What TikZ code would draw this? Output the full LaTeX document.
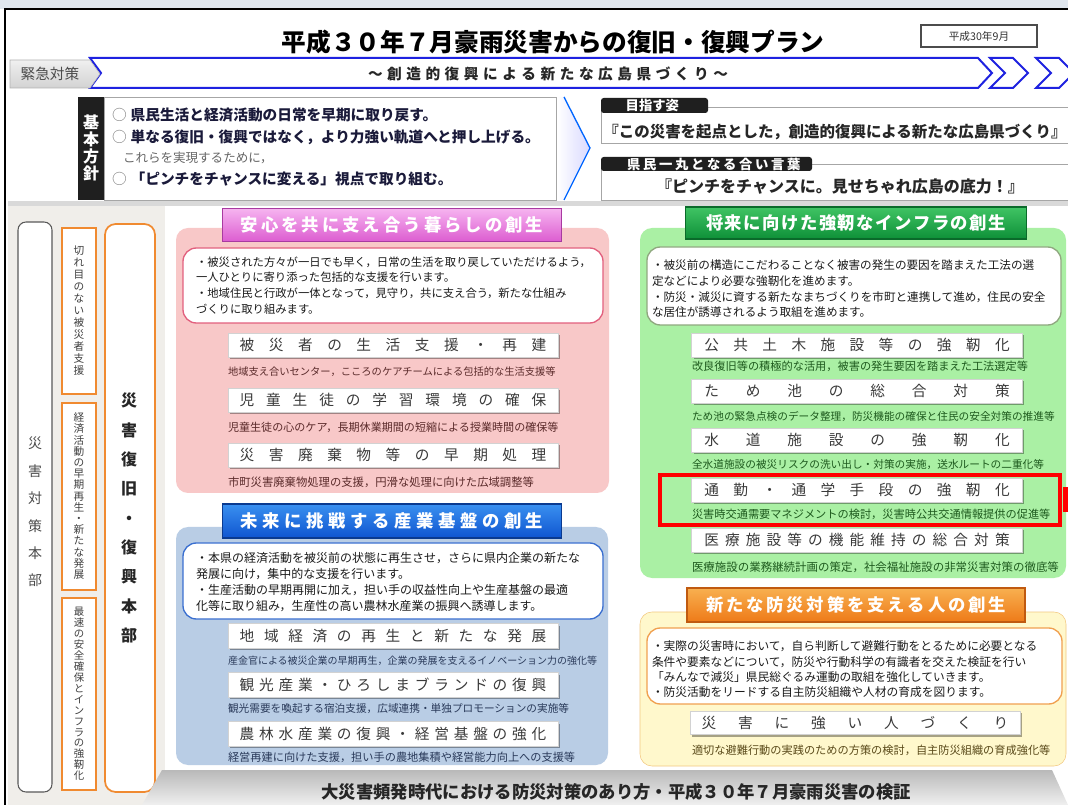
\documentclass[tikz,border=0pt]{standalone}
\usepackage{fontspec}
\setmainfont{Noto Sans CJK JP}
\usetikzlibrary{shadows}
\definecolor{topstrip}{HTML}{DFE6EE}
\definecolor{bandblue}{HTML}{1E22E0}
\definecolor{leftbg}{HTML}{F0EEEA}
\definecolor{orgline}{HTML}{F08A30}
\definecolor{pinkpanel}{HTML}{F8C8C8}
\definecolor{pinkline}{HTML}{E2607E}
\definecolor{pinkA}{HTML}{F6B4F0}
\definecolor{pinkB}{HTML}{DC5CD0}
\definecolor{pinkD}{HTML}{A83AA0}
\definecolor{bluepanel}{HTML}{B9CDE5}
\definecolor{blueline}{HTML}{3A6FD0}
\definecolor{blueA}{HTML}{3A90F0}
\definecolor{blueB}{HTML}{0F55D0}
\definecolor{blueD}{HTML}{0A3A90}
\definecolor{greenpanel}{HTML}{AAF0A4}
\definecolor{greenline}{HTML}{90A880}
\definecolor{greenA}{HTML}{40C464}
\definecolor{greenB}{HTML}{0E9038}
\definecolor{greenD}{HTML}{0A6A2A}
\definecolor{orgpanel}{HTML}{FFF8CC}
\definecolor{orgpline}{HTML}{F2C880}
\definecolor{orgdline}{HTML}{F0A050}
\definecolor{orgA}{HTML}{F8B050}
\definecolor{orgB}{HTML}{EE7A18}
\definecolor{orgD}{HTML}{C05A10}
\definecolor{txt}{HTML}{1A1A1A}
\definecolor{navy}{HTML}{1A1A3A}
\definecolor{subpink}{HTML}{5A2A2A}
\definecolor{subblue}{HTML}{2A3A5A}
\definecolor{subgreen}{HTML}{1E5A1E}
\definecolor{suborg}{HTML}{5A4A1A}
\definecolor{itemtxt}{HTML}{3A3A3A}
\makeatletter
\newcommand\spr[2]{\makebox[#1]{\let\sprsep\relax\@tfor\sprc:=#2\do{\sprsep\sprc\def\sprsep{\hfill}}}}
\newcommand\vstk[2]{\vbox{\baselineskip=#1\relax\lineskip=0pt\lineskiplimit=-30pt\relax\@tfor\vc:=#2\do{\hbox to 1em{\hss\vc\hss}}}}
\makeatother
\newcommand\fsz[2]{\fontsize{#1}{#2}\selectfont}
\newcommand\bpmark{{\mdseries\color{gray}○}\hspace{3pt}}
\begin{document}
\begin{tikzpicture}[x=0.75pt,y=-0.75pt,
  lbl/.style={inner sep=0pt,outer sep=0pt},
  hdr/.style={lbl,text=white,font=\fsz{13pt}{13pt}\bfseries,line width=0.8pt},
  itembox/.style={lbl,fill=white,draw=gray!35,line width=0.4pt,text=itemtxt,font=\fsz{11pt}{11pt},
     drop shadow={shadow xshift=1.6pt,shadow yshift=-1.6pt,fill=black,opacity=0.35}},
  desc/.style={lbl,anchor=north west,align=left,text=txt},
  sub/.style={lbl,anchor=west},
  vlabel/.style={lbl},
  pillar/.style={orgline,fill=white,line width=1.3pt},
]
\useasboundingbox (0,0) rectangle (1068,805);
% page
\fill[topstrip] (0,0) rectangle (1068,9);
\fill[white] (5,9) rectangle (1068,805);
\draw[black,line width=1.2pt] (5,805) -- (5,9) -- (1068,9);
% title
\node[lbl,font=\fsz{18.5pt}{18.5pt}\bfseries,text=black] (title) at (553,42) {平成３０年７月豪雨災害からの復旧・復興プラン};
\node[draw=black!70,line width=1.5pt,fill=white,minimum width=87pt,minimum height=16.5pt,inner sep=0pt,font=\fsz{8pt}{8pt},text=black!80] (date) at (979,36) {平成30年9月};
% band
\draw[bandblue,line width=1.5pt,fill=white] (90,58) -- (978,58) -- (992,73) -- (978,88) -- (90,88) -- (101,73) -- cycle;
\draw[bandblue,line width=1.5pt,fill=white] (990,58) -- (1013,58) -- (1028,73) -- (1013,88) -- (990,88) -- (1005,73) -- cycle;
\draw[bandblue,line width=1.5pt,fill=white] (1036,58) -- (1059,58) -- (1074,73) -- (1059,88) -- (1036,88) -- (1051,73) -- cycle;
\shade[top color=gray!12,bottom color=gray!35,draw=gray!60] (10,60) -- (90,60) -- (100,74) -- (90,88) -- (10,88) -- cycle;
\node[lbl,font=\fsz{11pt}{11pt},text=black!70] (kinkyu) at (50,74) {緊急対策};
\node[lbl,font=\fsz{11pt}{11pt}\bfseries,text=black!85] (slogan) at (548,74) {\spr{270pt}{～創造的復興による新たな広島県づくり～}};
% basic policy
\fill[black!88] (78,97) rectangle (104,200);
\node[lbl,text=white,font=\fsz{12pt}{12pt}\bfseries] (kihon) at (91,148) {\vstk{12.8pt}{基本方針}};
\draw[gray!70,fill=white] (104,97) rectangle (556,200);
\node[lbl,anchor=west,font=\fsz{11pt}{11pt}\bfseries,text=navy] (bp1) at (112,115) {\bpmark 県民生活と経済活動の日常を早期に取り戻す。};
\node[lbl,anchor=west,font=\fsz{11pt}{11pt}\bfseries,text=navy] (bp2) at (112,137) {\bpmark 単なる復旧・復興ではなく，より力強い軌道へと押し上げる。};
\node[lbl,anchor=west,font=\fsz{9.4pt}{9.4pt},text=black!60] (bp3) at (123,158) {これらを実現するために，};
\node[lbl,anchor=west,font=\fsz{11pt}{11pt}\bfseries,text=navy] (bp4) at (112,179) {\bpmark「ピンチをチャンスに変える」視点で取り組む。};
\shade[left color=white,right color=blue!15] (557,97) -- (564,97) -- (590,148) -- (564,200) -- (557,200) -- cycle;
\draw[blue!60!cyan,line width=1pt] (564,97) -- (590,148) -- (564,200);
% vision
\draw[gray!70,fill=white] (601,107) rectangle (1075,143);
\fill[black!88,rounded corners=2pt] (601,98) rectangle (708,113);
\node[lbl,anchor=west,text=white,font=\fsz{10pt}{10pt}\bfseries] (mezasu) at (627,105.5) {\spr{38pt}{目指す姿}};
\node[lbl,font=\fsz{11.6pt}{11.6pt}\bfseries,text=black!85] (vision) at (835,132) {『この災害を起点とした，創造的復興による新たな広島県づくり』};
\draw[gray!70,fill=white] (601,164) rectangle (1075,200);
\fill[black!88,rounded corners=2pt] (601,157) rectangle (812,171);
\node[lbl,anchor=west,text=white,font=\fsz{10pt}{10pt}\bfseries] (aikotoba) at (627,164) {\spr{130pt}{県民一丸となる合い言葉}};
\node[lbl,font=\fsz{12pt}{12pt}\bfseries,text=black!85] (catch) at (840,187) {『ピンチをチャンスに。見せちゃれ広島の底力！』};
% left column
\fill[gray!30] (8,201) rectangle (1068,206);
\fill[leftbg] (8,206) rectangle (165,805);
\draw[black!65,fill=white,rounded corners=6pt,line width=0.8pt] (18,222) rectangle (52,792);
\node[vlabel,text=black!70,font=\fsz{10.5pt}{10.5pt}] (taisaku) at (35,512) {\vstk{20.6pt}{災害対策本部}};
\draw[pillar] (62,228) rectangle (96,394);
\node[vlabel,text=black!75,font=\fsz{8pt}{8pt}] (kire) at (79,311) {\vstk{9pt}{切れ目のない被災者支援}};
\draw[pillar] (62,403) rectangle (96,590);
\node[vlabel,text=black!75,font=\fsz{8pt}{8pt}] (keizai) at (79,496) {\vstk{8.4pt}{経済活動の早期再生・新たな発展}};
\draw[pillar] (62,598) rectangle (96,790);
\node[vlabel,text=black!75,font=\fsz{7.8pt}{7.8pt}] (saisoku) at (79,694) {\vstk{8.2pt}{最速の安全確保とインフラの強靭化}};
\draw[pillar,rounded corners=8pt] (105,224) rectangle (155,792);
\node[vlabel,text=black!85,font=\fsz{12pt}{12pt}\bfseries] (fukko) at (129,518) {\vstk{22pt}{災害復旧・復興本部}};
% pink section
\fill[pinkpanel,rounded corners=9pt] (176,228) rectangle (609,493);
\node[hdr,top color=pinkA,bottom color=pinkB,draw=pinkD,minimum width=254pt,minimum height=25pt] (ph) at (392,225) {\spr{227pt}{安心を共に支え合う暮らしの創生}};
\draw[pinkline,fill=white,rounded corners=10pt,line width=1pt] (183,248) rectangle (603,323);
\node[desc,font=\fsz{8.5pt}{11.8pt}] (pd) at (196,256.5) {・被災された方々が一日でも早く，日常の生活を取り戻していただけるよう，\\一人ひとりに寄り添った包括的な支援を行います。\\・地域住民と行政が一体となって，見守り，共に支え合う，新たな仕組み\\づくりに取り組みます。};
\node[itembox,minimum width=247.5pt,minimum height=18pt] (pi1) at (393,345) {\spr{230pt}{被災者の生活支援・再建}};
\node[sub,text=subpink,font=\fsz{7.7pt}{8pt}] (ps1) at (228,372) {地域支え合いセンター，こころのケアチームによる包括的な生活支援等};
\node[itembox,minimum width=247.5pt,minimum height=18pt] (pi2) at (393,400) {\spr{230pt}{児童生徒の学習環境の確保}};
\node[sub,text=subpink,font=\fsz{8.3pt}{8.5pt}] (ps2) at (228,427) {児童生徒の心のケア，長期休業期間の短縮による授業時間の確保等};
\node[itembox,minimum width=247.5pt,minimum height=18pt] (pi3) at (393,455) {\spr{230pt}{災害廃棄物等の早期処理}};
\node[sub,text=subpink,font=\fsz{8.5pt}{8.5pt}] (ps3) at (228,482) {市町災害廃棄物処理の支援，円滑な処理に向けた広域調整等};
% blue section
\fill[bluepanel,rounded corners=9pt] (176,527) rectangle (608,765);
\node[hdr,top color=blueA,bottom color=blueB,draw=blueD,minimum width=254pt,minimum height=25.5pt] (bh) at (392,521) {\spr{227pt}{未来に挑戦する産業基盤の創生}};
\draw[blueline,fill=white,rounded corners=10pt,line width=1pt] (183,543) rectangle (603,619);
\node[desc,font=\fsz{9pt}{12pt}] (bd) at (196,552) {・本県の経済活動を被災前の状態に再生させ，さらに県内企業の新たな\\発展に向け，集中的な支援を行います。\\・生産活動の早期再開に加え，担い手の収益性向上や生産基盤の最適\\化等に取り組み，生産性の高い農林水産業の振興へ誘導します。};
\node[itembox,minimum width=247.5pt,minimum height=18.5pt] (bi1) at (393,636) {\spr{230pt}{地域経済の再生と新たな発展}};
\node[sub,text=subblue,font=\fsz{7.5pt}{8pt}] (bs1) at (228,661) {産金官による被災企業の早期再生，企業の発展を支えるイノベーション力の強化等};
\node[itembox,minimum width=247.5pt,minimum height=18.5pt] (bi2) at (393,685) {\spr{230pt}{観光産業・ひろしまブランドの復興}};
\node[sub,text=subblue,font=\fsz{8pt}{8pt}] (bs2) at (228,709) {観光需要を喚起する宿泊支援，広域連携・単独プロモーションの実施等};
\node[itembox,minimum width=247.5pt,minimum height=18.5pt] (bi3) at (393,734) {\spr{230pt}{農林水産業の復興・経営基盤の強化}};
\node[sub,text=subblue,font=\fsz{8.4pt}{8.5pt}] (bs3) at (228,757) {経営再建に向けた支援，担い手の農地集積や経営能力向上への支援等};
% green section
\fill[greenpanel,rounded corners=9pt] (640,228) rectangle (1066,578);
\node[hdr,top color=greenA,bottom color=greenB,draw=greenD,minimum width=256pt,minimum height=24pt] (gh) at (856,223) {\spr{225pt}{将来に向けた強靭なインフラの創生}};
\draw[greenline,fill=white,rounded corners=10pt,line width=1pt] (647,247) rectangle (1061,325);
\node[desc,font=\fsz{8.7pt}{11.8pt}] (gd) at (652,260) {・被災前の構造にこだわることなく被害の発生の要因を踏まえた工法の選\\定などにより必要な強靭化を進めます。\\・防災・減災に資する新たなまちづくりを市町と連携して進め，住民の安全\\な居住が誘導されるよう取組を進めます。};
\node[itembox,minimum width=248pt,minimum height=18pt] (gi1) at (857,345) {\spr{229pt}{公共土木施設等の強靭化}};
\node[sub,text=subgreen,font=\fsz{8.4pt}{8.5pt}] (gs1) at (692,366) {改良復旧等の積極的な活用，被害の発生要因を踏まえた工法選定等};
\node[itembox,minimum width=248pt,minimum height=18pt] (gi2) at (857,391) {\spr{229pt}{ため池の総合対策}};
\node[sub,text=subgreen,font=\fsz{8pt}{8pt}] (gs2) at (692,417) {ため池の緊急点検のデータ整理，防災機能の確保と住民の安全対策の推進等};
\node[itembox,minimum width=248pt,minimum height=18pt] (gi3) at (857,440) {\spr{229pt}{水道施設の強靭化}};
\node[sub,text=subgreen,font=\fsz{8pt}{8pt}] (gs3) at (692,465) {全水道施設の被災リスクの洗い出し・対策の実施，送水ルートの二重化等};
\node[itembox,minimum width=248pt,minimum height=18pt] (gi4) at (857,490) {\spr{229pt}{通勤・通学手段の強靭化}};
\node[sub,text=subgreen,font=\fsz{8.4pt}{8.5pt}] (gs4) at (692,514) {災害時交通需要マネジメントの検討，災害時公共交通情報提供の促進等};
\node[itembox,minimum width=248pt,minimum height=18pt] (gi5) at (857,540) {\spr{229pt}{医療施設等の機能維持の総合対策}};
\node[sub,text=subgreen,font=\fsz{8.6pt}{8.6pt}] (gs5) at (692,567) {医療施設の業務継続計画の策定，社会福祉施設の非常災害対策の徹底等};
\draw[red,line width=2.4pt] (660,475) rectangle (1060,525);
\fill[red] (1063,487) rectangle (1070,512);
% orange section
\fill[orgpanel,rounded corners=9pt] (640,612) rectangle (1066,766);
\draw[orgpline,rounded corners=9pt] (640,612) rectangle (1066,766);
\node[hdr,top color=orgA,bottom color=orgB,draw=orgD,minimum width=253.5pt,minimum height=25.5pt] (oh) at (856,605) {\spr{225pt}{新たな防災対策を支える人の創生}};
\draw[orgdline,fill=white,rounded corners=10pt,line width=1pt] (647,628) rectangle (1062,704);
\node[desc,font=\fsz{8.8pt}{11.5pt}] (od) at (652,641) {・実際の災害時において，自ら判断して避難行動をとるために必要となる\\条件や要素などについて，防災や行動科学の有識者を交えた検証を行い\\「みんなで減災」県民総ぐるみ運動の取組を強化していきます。\\・防災活動をリードする自主防災組織や人材の育成を図ります。};
\node[itembox,minimum width=247.5pt,minimum height=17.5pt] (oi1) at (855,723) {\spr{230pt}{災害に強い人づくり}};
\node[sub,text=suborg,font=\fsz{8.4pt}{8.5pt}] (os1) at (692,750) {適切な避難行動の実践のための方策の検討，自主防災組織の育成強化等};
% bottom bar
\shade[top color=gray!55,bottom color=gray!12] (162,770) -- (1052,770) -- (1068,805) -- (142,805) -- cycle;
\node[lbl,font=\fsz{13pt}{13pt}\bfseries,text=black!85] (kensho) at (616,792) {大災害頻発時代における防災対策のあり方・平成３０年７月豪雨災害の検証};
\end{tikzpicture}
\end{document}
